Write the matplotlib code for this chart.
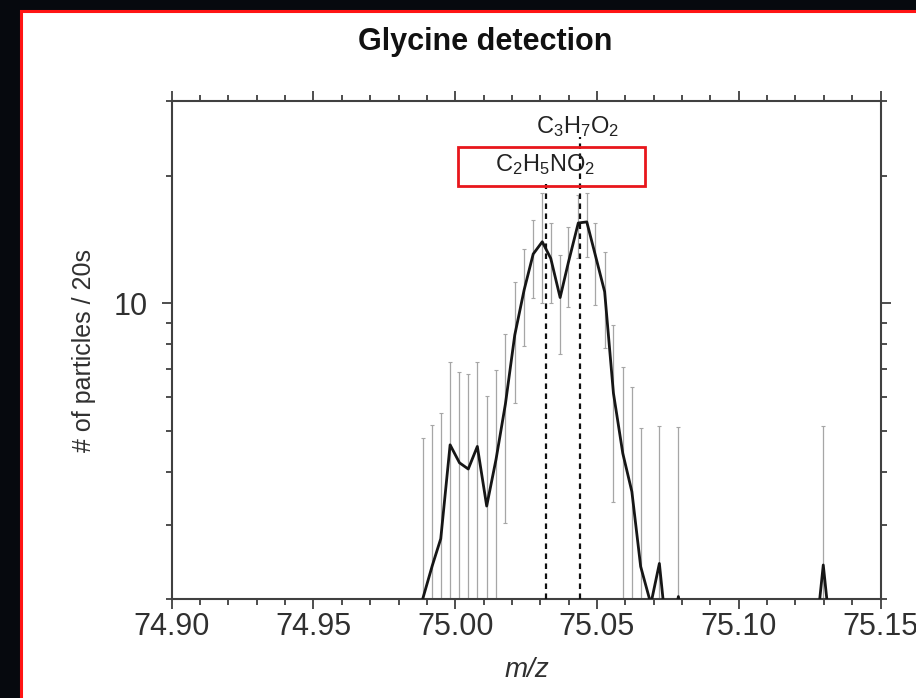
import matplotlib
matplotlib.use("Agg")
import matplotlib.pyplot as plt
from matplotlib.patches import Rectangle
from matplotlib.ticker import FixedLocator, NullFormatter, MultipleLocator, FormatStrFormatter

# m/z bins and counts (values < 2 sit below the axis)
mz = [74.9885, 74.9919, 74.9949, 74.9982, 75.0015, 75.0046, 75.0078, 75.0111,
      75.0144, 75.0177, 75.0210, 75.0243, 75.0275, 75.0307, 75.0337, 75.0370,
      75.0399, 75.0434, 75.0464, 75.0494, 75.0527, 75.0558, 75.0591, 75.0623,
      75.0654, 75.0690, 75.0720, 75.0752, 75.0787, 75.0820, 75.1266, 75.1298,
      75.1330]
counts = [2.0, 2.40, 2.78, 4.63, 4.20, 4.06, 4.59, 3.32,
          4.28, 5.78, 8.41, 10.74, 13.06, 13.96, 12.75, 10.31,
          12.47, 15.46, 15.55, 12.99, 10.64, 6.13, 4.42, 3.59,
          2.39, 1.95, 2.43, 1.5, 2.03, 1.5, 1.5, 2.41,
          1.5]

# error bars (upper / lower ends)
err_idx = list(range(0, 25)) + [26, 28, 31]
err_hi = [4.80, 5.16, 5.51, 7.28, 6.89, 6.79, 7.28, 6.04, 6.95, 8.46, 11.24, 13.40,
          15.71, 18.2, 15.44, 12.99, 15.15, 18.0, 18.16, 15.44, 13.23, 8.88, 7.08,
          6.33, 5.08, 5.14, 5.11, 5.13]
err_lo = [1.0, 1.0, 1.0, 1.0, 1.0, 1.0, 1.0, 1.0, 1.0, 3.03, 5.82, 7.94,
          10.28, 10.0, 10.0, 7.59, 9.81, 12.78, 12.88, 9.90, 7.83, 3.40, 1.0,
          1.0, 1.0, 1.0, 1.0, 1.0]

# candidate ions: position, top of the marker line, label
ion_mz = [75.032, 75.044]
ion_top = [19.1, 24.7]
ion_labels = ['C$_2$H$_5$NO$_2$', 'C$_3$H$_7$O$_2$']
ion_label_pos = [(75.0317, 21.2), (75.0431, 26.1)]
box_x = (75.0011, 75.0669)
box_y = (18.9, 23.4)

plt.rcParams['font.family'] = ['Liberation Sans', 'DejaVu Sans']
plt.rcParams['mathtext.fontset'] = 'custom'
plt.rcParams['mathtext.rm'] = 'Liberation Sans'
plt.rcParams['mathtext.it'] = 'Liberation Sans:italic'

fig = plt.figure(figsize=(9.16, 6.98), dpi=100)
fig.patch.set_facecolor('#06090e')
panel = Rectangle((21 / 916, -0.05), 1.0, 1 - 11 / 698 + 0.05, transform=fig.transFigure,
                  facecolor='white', edgecolor='#ff1414', lw=2.2, zorder=-5)
fig.patches.append(panel)

ax = fig.add_axes([0.1874, 0.1414, 0.7739, 0.7139])
ax.set_yscale('log')

x_err = [mz[i] for i in err_idx]
y_err = [counts[i] for i in err_idx]
lo = [y - l for y, l in zip(y_err, err_lo)]
hi = [h - y for y, h in zip(y_err, err_hi)]
ax.errorbar(x_err, y_err, yerr=[lo, hi], fmt='none', ecolor='#a6a6a6',
            elinewidth=0.9, capsize=1.5, capthick=0.8, zorder=2)
ax.plot(mz, counts, color='#161616', lw=2.0, zorder=3)

ax.vlines(ion_mz, 2, ion_top, colors='#111111', lw=1.6,
          linestyles=(0, (2.5, 2)), zorder=4, clip_on=False)
for lab, (lx, ly) in zip(ion_labels, ion_label_pos):
    ax.text(lx, ly, lab, ha='center', va='center', fontsize=17, color='#222222', zorder=5)
ax.add_patch(Rectangle((box_x[0], box_y[0]), box_x[1] - box_x[0], box_y[1] - box_y[0],
                       fill=False, edgecolor='#e8161c', lw=2, zorder=5, clip_on=False))

ax.set_xlim(74.90, 75.15)
ax.set_ylim(2, 30)
ax.xaxis.set_major_locator(MultipleLocator(0.05))
ax.xaxis.set_minor_locator(MultipleLocator(0.01))
ax.xaxis.set_major_formatter(FormatStrFormatter('%.2f'))
ax.yaxis.set_major_locator(FixedLocator([10]))
ax.yaxis.set_major_formatter(FormatStrFormatter('%d'))
ax.yaxis.set_minor_locator(FixedLocator([2, 3, 4, 5, 6, 7, 8, 9, 20, 30]))
ax.yaxis.set_minor_formatter(NullFormatter())

for s in ax.spines.values():
    s.set_color('#404040')
    s.set_linewidth(1.5)
ax.tick_params(which='both', direction='out', top=True, right=True,
               color='#404040', width=1.3, labelcolor='#303030')
ax.tick_params(which='major', length=7)
ax.tick_params(which='minor', length=4)
ax.tick_params(axis='x', labelsize=22, pad=2)
ax.tick_params(axis='y', labelsize=22, pad=10)

ax.set_xlabel('m/z', fontsize=20, style='italic', color='#303030')
ax.xaxis.set_label_coords(0.501, -0.115)
ax.set_ylabel('# of particles / 20s', fontsize=18, color='#303030')
ax.yaxis.set_label_coords(-0.107, 0.5)

fig.text(485 / 916, 1 - 42 / 698, 'Glycine detection', ha='center', va='center',
         fontsize=22, fontweight='bold', color='#111111')

fig.savefig('out.png', dpi=100, facecolor=fig.get_facecolor())
